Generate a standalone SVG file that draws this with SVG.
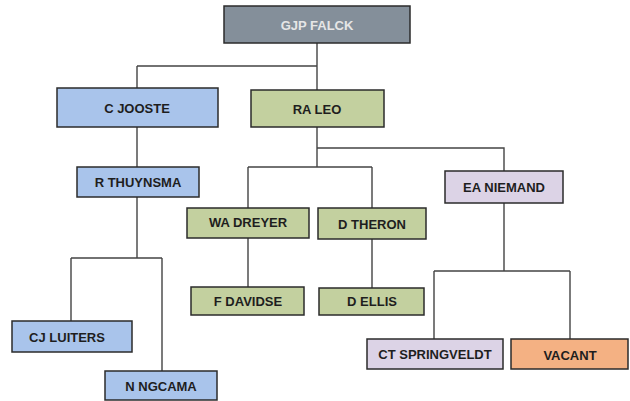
<svg xmlns="http://www.w3.org/2000/svg" width="630" height="401" viewBox="0 0 630 401">
<style>
rect{stroke:#2b2b2b;stroke-width:1.5}
.g{fill:#848f9a}.b{fill:#a9c4eb}.v{fill:#c3d09f}.p{fill:#dcd3e6}.o{fill:#f4b183}
text{font-family:"Liberation Sans",Arial,sans-serif;font-weight:bold;font-size:13px;fill:#1e1e1e;text-anchor:middle;dominant-baseline:central}
.w{fill:#e6e6e6}
#c path{fill:none;stroke:#444;stroke-width:1.4}
</style>
<rect width="630" height="401" fill="#fff" style="stroke:none"/>
<g id="c">
<path d="M317 43V90M137 66H317V148M137 66V88M137 127V167M137 197V258M71 258H162M71 258V321M162 258V371"/>
<path d="M317 148H504V171M317 148V167M248 167H372M248 167V208M372 167V208M248 238V287M372 239V288"/>
<path d="M504 203V271M434 271H570M434 271V339M570 271V339"/>
</g>
<g id="falck"><rect class="g" x="224" y="6" width="186" height="37"/><text class="w" x="317" y="25">GJP FALCK</text></g>
<g id="jooste"><rect class="b" x="57" y="88" width="161" height="39"/><text x="137" y="108">C JOOSTE</text></g>
<g id="leo"><rect class="v" x="251" y="90" width="133" height="37"/><text x="317" y="109">RA LEO</text></g>
<g id="thuynsma"><rect class="b" x="77" y="167" width="122" height="30"/><text x="138" y="182">R THUYNSMA</text></g>
<g id="dreyer"><rect class="v" x="187" y="208" width="122" height="30"/><text x="248" y="222">WA DREYER</text></g>
<g id="theron"><rect class="v" x="318" y="208" width="108" height="31"/><text x="372" y="224">D THERON</text></g>
<g id="niemand"><rect class="p" x="445" y="171" width="118" height="32"/><text x="504" y="187">EA NIEMAND</text></g>
<g id="davidse"><rect class="v" x="191" y="287" width="113" height="28"/><text x="248" y="301">F DAVIDSE</text></g>
<g id="ellis"><rect class="v" x="319" y="288" width="105" height="27"/><text x="372" y="301">D ELLIS</text></g>
<g id="luiters"><rect class="b" x="12" y="321" width="120" height="31"/><text x="67" y="337">CJ LUITERS</text></g>
<g id="ngcama"><rect class="b" x="105" y="371" width="112" height="29"/><text x="161" y="386">N NGCAMA</text></g>
<g id="springveldt"><rect class="p" x="367" y="339" width="136" height="30"/><text x="435" y="354">CT SPRINGVELDT</text></g>
<g id="vacant"><rect class="o" x="511" y="339" width="117" height="30"/><text x="570" y="355">VACANT</text></g>
</svg>
